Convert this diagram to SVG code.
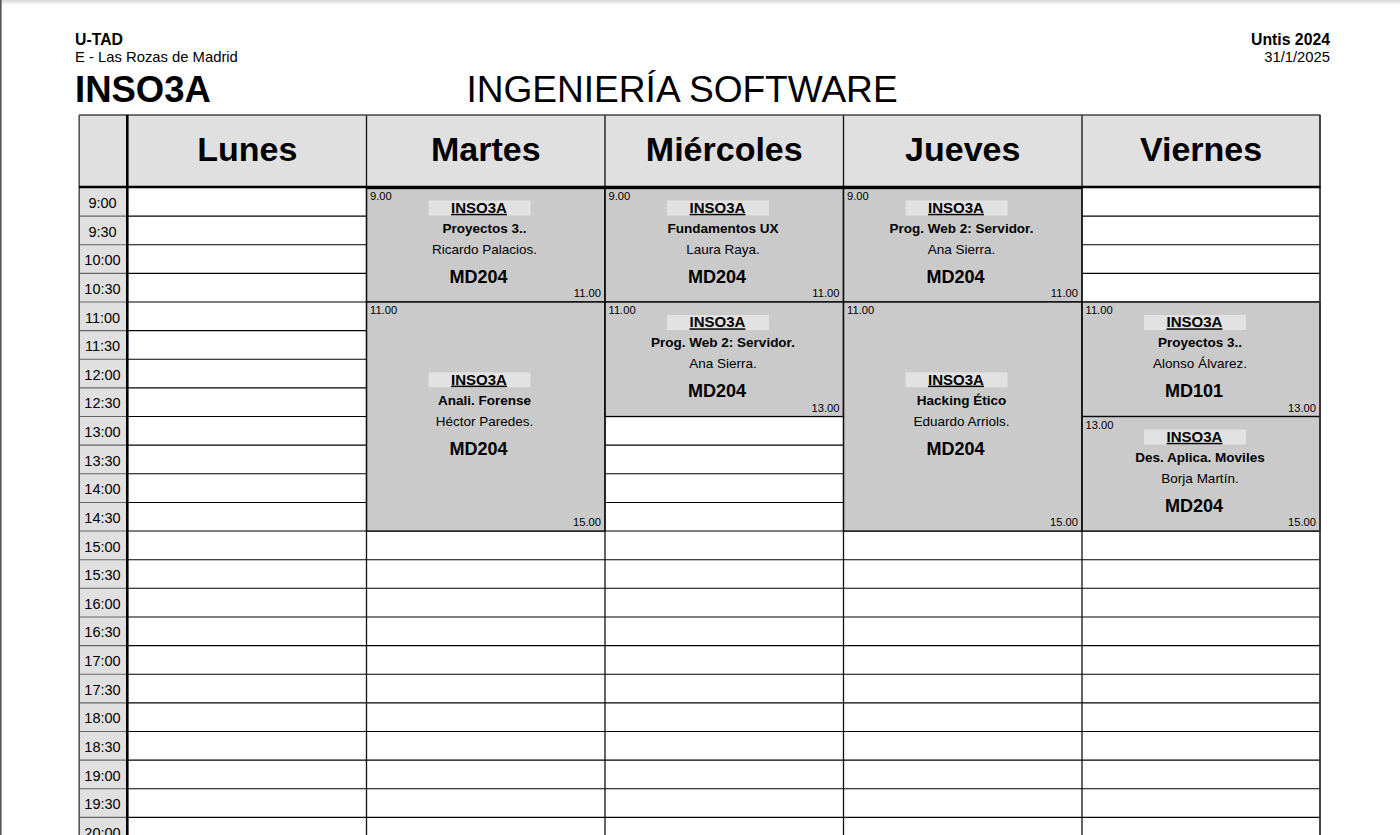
<svg xmlns="http://www.w3.org/2000/svg" width="1400" height="835" viewBox="0 0 1400 835">
<defs>
<linearGradient id="topShade" x1="0" y1="0" x2="0" y2="1">
<stop offset="0" stop-color="#d8d8d8"/>
<stop offset="1" stop-color="#ffffff"/>
</linearGradient>
</defs>
<style>
text{font-family:"Liberation Sans",Arial,sans-serif;fill:#000}
.b{font-weight:bold}
.day{font-weight:bold;font-size:34px;text-anchor:middle}
.tm{font-size:14.5px;text-anchor:middle}
.hdr{fill:#e0e0e0}
.row{stroke:#000;stroke-width:1.1}
.trow{stroke:#666;stroke-width:1.1}
.vline{stroke:#111;stroke-width:1.3}
.blk{fill:#cacaca;stroke:#000;stroke-width:1.3}
.tag{fill:#e2e2e2}
.st{font-size:11.2px}
.et{font-size:11.2px;text-anchor:end}
.grp{font-weight:bold;font-size:15px;text-anchor:middle;text-decoration:underline}
.sub{font-weight:bold;font-size:13.5px;text-anchor:middle}
.tch{font-size:13.5px;text-anchor:middle}
.room{font-weight:bold;font-size:18px}
</style>
<rect width="1400" height="835" fill="#fff"/>
<rect x="0" y="0" width="1400" height="5" fill="url(#topShade)"/>
<rect x="0" y="0" width="1.6" height="835" fill="#555"/>

<g id="page-header">
<text x="75" y="45" class="b" font-size="15.8">U-TAD</text>
<text x="75" y="62.3" font-size="14.8">E - Las Rozas de Madrid</text>
<text x="75" y="101.7" class="b" font-size="36.5">INSO3A</text>
<text x="682" y="102.3" font-size="37.1" text-anchor="middle">INGENIERÍA SOFTWARE</text>
<text x="1330" y="45" class="b" font-size="15.8" text-anchor="end">Untis 2024</text>
<text x="1330" y="62.3" font-size="14.8" text-anchor="end">31/1/2025</text>
</g>

<g id="table-background">
<rect x="79" y="115" width="1241" height="72" class="hdr"/>
<rect x="79" y="187" width="48" height="648" class="hdr"/>
</g>

<g id="grid-lines">
<g class="row">
<line x1="128" y1="216.13" x2="1320" y2="216.13"/>
<line x1="128" y1="244.76" x2="1320" y2="244.76"/>
<line x1="128" y1="273.39" x2="1320" y2="273.39"/>
<line x1="128" y1="302.02" x2="1320" y2="302.02"/>
<line x1="128" y1="330.65" x2="1320" y2="330.65"/>
<line x1="128" y1="359.28" x2="1320" y2="359.28"/>
<line x1="128" y1="387.91" x2="1320" y2="387.91"/>
<line x1="128" y1="416.54" x2="1320" y2="416.54"/>
<line x1="128" y1="445.17" x2="1320" y2="445.17"/>
<line x1="128" y1="473.8" x2="1320" y2="473.8"/>
<line x1="128" y1="502.43" x2="1320" y2="502.43"/>
<line x1="128" y1="531.06" x2="1320" y2="531.06"/>
<line x1="128" y1="559.69" x2="1320" y2="559.69"/>
<line x1="128" y1="588.32" x2="1320" y2="588.32"/>
<line x1="128" y1="616.95" x2="1320" y2="616.95"/>
<line x1="128" y1="645.58" x2="1320" y2="645.58"/>
<line x1="128" y1="674.21" x2="1320" y2="674.21"/>
<line x1="128" y1="702.84" x2="1320" y2="702.84"/>
<line x1="128" y1="731.47" x2="1320" y2="731.47"/>
<line x1="128" y1="760.1" x2="1320" y2="760.1"/>
<line x1="128" y1="788.73" x2="1320" y2="788.73"/>
<line x1="128" y1="817.36" x2="1320" y2="817.36"/>
</g>
<g class="trow">
<line x1="79" y1="216.13" x2="127" y2="216.13"/>
<line x1="79" y1="244.76" x2="127" y2="244.76"/>
<line x1="79" y1="273.39" x2="127" y2="273.39"/>
<line x1="79" y1="302.02" x2="127" y2="302.02"/>
<line x1="79" y1="330.65" x2="127" y2="330.65"/>
<line x1="79" y1="359.28" x2="127" y2="359.28"/>
<line x1="79" y1="387.91" x2="127" y2="387.91"/>
<line x1="79" y1="416.54" x2="127" y2="416.54"/>
<line x1="79" y1="445.17" x2="127" y2="445.17"/>
<line x1="79" y1="473.8" x2="127" y2="473.8"/>
<line x1="79" y1="502.43" x2="127" y2="502.43"/>
<line x1="79" y1="531.06" x2="127" y2="531.06"/>
<line x1="79" y1="559.69" x2="127" y2="559.69"/>
<line x1="79" y1="588.32" x2="127" y2="588.32"/>
<line x1="79" y1="616.95" x2="127" y2="616.95"/>
<line x1="79" y1="645.58" x2="127" y2="645.58"/>
<line x1="79" y1="674.21" x2="127" y2="674.21"/>
<line x1="79" y1="702.84" x2="127" y2="702.84"/>
<line x1="79" y1="731.47" x2="127" y2="731.47"/>
<line x1="79" y1="760.1" x2="127" y2="760.1"/>
<line x1="79" y1="788.73" x2="127" y2="788.73"/>
<line x1="79" y1="817.36" x2="127" y2="817.36"/>
</g>
</g>

<g id="block-martes-0900">
<rect x="366.5" y="188.5" width="238.5" height="113.5" class="blk"/>
<text x="370" y="199.5" class="st">9.00</text>
<text x="601" y="297" class="et">11.00</text>
<rect x="428.5" y="200.5" width="102" height="15" class="tag"/>
<text x="479" y="212.8" class="grp">INSO3A</text>
<text x="484.5" y="232.8" class="sub">Proyectos 3..</text>
<text x="484.5" y="253.9" class="tch">Ricardo Palacios.</text>
<text x="449.5" y="282.6" class="room">MD204</text>
</g>

<g id="block-miercoles-0900">
<rect x="605" y="188.5" width="238.5" height="113.5" class="blk"/>
<text x="608.5" y="199.5" class="st">9.00</text>
<text x="839.5" y="297" class="et">11.00</text>
<rect x="667" y="200.5" width="102" height="15" class="tag"/>
<text x="717.5" y="212.8" class="grp">INSO3A</text>
<text x="723" y="232.8" class="sub">Fundamentos UX</text>
<text x="723" y="253.9" class="tch">Laura Raya.</text>
<text x="688" y="282.6" class="room">MD204</text>
</g>

<g id="block-jueves-0900">
<rect x="843.5" y="188.5" width="238.5" height="113.5" class="blk"/>
<text x="847" y="199.5" class="st">9.00</text>
<text x="1078" y="297" class="et">11.00</text>
<rect x="905.5" y="200.5" width="102" height="15" class="tag"/>
<text x="956" y="212.8" class="grp">INSO3A</text>
<text x="961.5" y="232.8" class="sub">Prog. Web 2: Servidor.</text>
<text x="961.5" y="253.9" class="tch">Ana Sierra.</text>
<text x="926.5" y="282.6" class="room">MD204</text>
</g>

<g id="block-martes-1100">
<rect x="366.5" y="302.02" width="238.5" height="229.04" class="blk"/>
<text x="370" y="314" class="st">11.00</text>
<text x="601" y="526" class="et">15.00</text>
<rect x="428.5" y="372.3" width="102" height="15" class="tag"/>
<text x="479" y="384.6" class="grp">INSO3A</text>
<text x="484.5" y="404.5" class="sub">Anali. Forense</text>
<text x="484.5" y="425.7" class="tch">Héctor Paredes.</text>
<text x="449.5" y="454.5" class="room">MD204</text>
</g>

<g id="block-miercoles-1100">
<rect x="605" y="302.02" width="238.5" height="114.52" class="blk"/>
<text x="608.5" y="314" class="st">11.00</text>
<text x="839.5" y="411.5" class="et">13.00</text>
<rect x="667" y="315" width="102" height="15" class="tag"/>
<text x="717.5" y="327.3" class="grp">INSO3A</text>
<text x="723" y="347" class="sub">Prog. Web 2: Servidor.</text>
<text x="723" y="368.4" class="tch">Ana Sierra.</text>
<text x="688" y="397" class="room">MD204</text>
</g>

<g id="block-jueves-1100">
<rect x="843.5" y="302.02" width="238.5" height="229.04" class="blk"/>
<text x="847" y="314" class="st">11.00</text>
<text x="1078" y="526" class="et">15.00</text>
<rect x="905.5" y="372.3" width="102" height="15" class="tag"/>
<text x="956" y="384.6" class="grp">INSO3A</text>
<text x="961.5" y="404.5" class="sub">Hacking Ético</text>
<text x="961.5" y="425.7" class="tch">Eduardo Arriols.</text>
<text x="926.5" y="454.5" class="room">MD204</text>
</g>

<g id="block-viernes-1100">
<rect x="1082" y="302.02" width="238" height="114.52" class="blk"/>
<text x="1085.5" y="314" class="st">11.00</text>
<text x="1316" y="411.5" class="et">13.00</text>
<rect x="1144" y="315" width="102" height="15" class="tag"/>
<text x="1194.5" y="327.3" class="grp">INSO3A</text>
<text x="1200" y="347" class="sub">Proyectos 3..</text>
<text x="1200" y="368.4" class="tch">Alonso Álvarez.</text>
<text x="1165" y="397" class="room">MD101</text>
</g>

<g id="block-viernes-1300">
<rect x="1082" y="416.54" width="238" height="114.52" class="blk"/>
<text x="1085.5" y="428.5" class="st">13.00</text>
<text x="1316" y="526" class="et">15.00</text>
<rect x="1144" y="429.5" width="102" height="15" class="tag"/>
<text x="1194.5" y="441.8" class="grp">INSO3A</text>
<text x="1200" y="461.5" class="sub">Des. Aplica. Moviles</text>
<text x="1200" y="483" class="tch">Borja Martín.</text>
<text x="1165" y="511.5" class="room">MD204</text>
</g>

<g id="table-frame">
<g class="vline">
<line x1="366.5" y1="115" x2="366.5" y2="835"/>
<line x1="605" y1="115" x2="605" y2="835"/>
<line x1="843.5" y1="115" x2="843.5" y2="835"/>
<line x1="1082" y1="115" x2="1082" y2="835"/>
</g>
<line x1="79" y1="115" x2="1320.5" y2="115" stroke="#444" stroke-width="1.6"/>
<line x1="79.2" y1="115" x2="79.2" y2="835" stroke="#555" stroke-width="1.6"/>
<line x1="1320" y1="115" x2="1320" y2="835" stroke="#333" stroke-width="1.8"/>
<line x1="127.3" y1="115" x2="127.3" y2="835" stroke="#000" stroke-width="2.6"/>
<line x1="79" y1="187" x2="1320.5" y2="187" stroke="#000" stroke-width="2.6"/>
</g>

<g id="day-headers">
<text x="247.25" y="161" class="day">Lunes</text>
<text x="485.75" y="161" class="day">Martes</text>
<text x="724.25" y="161" class="day">Miércoles</text>
<text x="962.75" y="161" class="day">Jueves</text>
<text x="1201" y="161" class="day">Viernes</text>
</g>

<g id="time-labels">
<text x="102.5" y="208" class="tm">9:00</text>
<text x="102.5" y="236.63" class="tm">9:30</text>
<text x="102.5" y="265.26" class="tm">10:00</text>
<text x="102.5" y="293.89" class="tm">10:30</text>
<text x="102.5" y="322.52" class="tm">11:00</text>
<text x="102.5" y="351.15" class="tm">11:30</text>
<text x="102.5" y="379.78" class="tm">12:00</text>
<text x="102.5" y="408.41" class="tm">12:30</text>
<text x="102.5" y="437.04" class="tm">13:00</text>
<text x="102.5" y="465.67" class="tm">13:30</text>
<text x="102.5" y="494.3" class="tm">14:00</text>
<text x="102.5" y="522.93" class="tm">14:30</text>
<text x="102.5" y="551.56" class="tm">15:00</text>
<text x="102.5" y="580.19" class="tm">15:30</text>
<text x="102.5" y="608.82" class="tm">16:00</text>
<text x="102.5" y="637.45" class="tm">16:30</text>
<text x="102.5" y="666.08" class="tm">17:00</text>
<text x="102.5" y="694.71" class="tm">17:30</text>
<text x="102.5" y="723.34" class="tm">18:00</text>
<text x="102.5" y="751.97" class="tm">18:30</text>
<text x="102.5" y="780.6" class="tm">19:00</text>
<text x="102.5" y="809.23" class="tm">19:30</text>
<text x="102.5" y="837.86" class="tm">20:00</text>
</g>
</svg>
